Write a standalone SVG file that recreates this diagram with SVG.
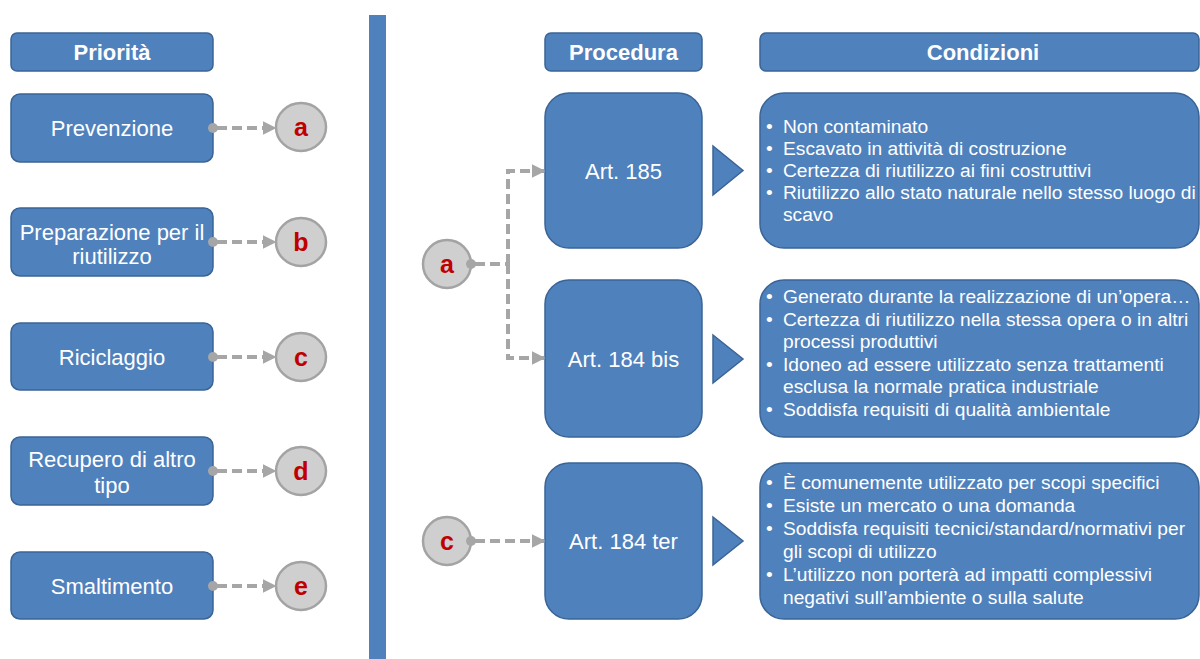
<svg xmlns="http://www.w3.org/2000/svg" width="1200" height="659" viewBox="0 0 1200 659">
<defs>
<style>
.box{fill:#4f81bd;stroke:#3a6496;stroke-width:1.5}
.hdr{font-family:"Liberation Sans",Arial,sans-serif;font-weight:bold;font-size:22px;fill:#fff;text-anchor:middle}
.lbl{font-family:"Liberation Sans",Arial,sans-serif;font-size:22px;fill:#fff;text-anchor:middle}
.cond{font-family:"Liberation Sans",Arial,sans-serif;font-size:19.2px;fill:#fff}
.circ{fill:#cfcfcf;stroke:#a3a3a3;stroke-width:2.5}
.let{font-family:"Liberation Sans",Arial,sans-serif;font-weight:bold;font-size:25px;fill:#c00000;text-anchor:middle}
.dash{fill:none;stroke:#a6a6a6;stroke-width:4;stroke-dasharray:10 5}
.dot{fill:#a6a6a6}
.tri{fill:#4f81bd;stroke:#3a6496;stroke-width:1.5}
</style>
<marker id="arr" viewBox="0 0 10 10" refX="9" refY="5" markerWidth="3.4" markerHeight="3.8" orient="auto" markerUnits="strokeWidth">
<path d="M0,0 L10,5 L0,10 z" fill="#a6a6a6"/>
</marker>
</defs>
<rect x="0" y="0" width="1200" height="659" fill="#fff"/>
<rect x="369" y="15" width="17" height="644" fill="#4f81bd"/>

<g id="hdr-priorita"><rect class="box" x="11" y="33" width="202" height="38" rx="6"/><text class="hdr" x="112" y="60">Priorità</text></g>
<g id="hdr-procedura"><rect class="box" x="545" y="33" width="157" height="38" rx="6"/><text class="hdr" x="623.5" y="60">Procedura</text></g>
<g id="hdr-condizioni"><rect class="box" x="760" y="33" width="439" height="38" rx="6"/><text class="hdr" x="983" y="60">Condizioni</text></g>

<g id="prevenzione"><rect class="box" x="11" y="94" width="202" height="68" rx="9"/><text class="lbl" x="112" y="135.5">Prevenzione</text></g>
<g id="preparazione"><rect class="box" x="11" y="208" width="202" height="68" rx="9"/><text class="lbl" x="112" y="239.5">Preparazione per il</text><text class="lbl" x="112" y="263.5">riutilizzo</text></g>
<g id="riciclaggio"><rect class="box" x="11" y="323" width="202" height="67" rx="9"/><text class="lbl" x="112" y="364.5">Riciclaggio</text></g>
<g id="recupero"><rect class="box" x="11" y="437" width="202" height="68" rx="9"/><text class="lbl" x="112" y="466.5">Recupero di altro</text><text class="lbl" x="112" y="492.5">tipo</text></g>
<g id="smaltimento"><rect class="box" x="11" y="552" width="202" height="67" rx="9"/><text class="lbl" x="112" y="593.5">Smaltimento</text></g>

<g id="circ-a"><ellipse class="circ" cx="301" cy="127" rx="25" ry="24"/><text class="let" x="301" y="136">a</text></g>
<g id="circ-b"><ellipse class="circ" cx="301" cy="242" rx="25" ry="24"/><text class="let" x="301" y="251">b</text></g>
<g id="circ-c"><ellipse class="circ" cx="301" cy="357" rx="25" ry="24"/><text class="let" x="301" y="366">c</text></g>
<g id="circ-d"><ellipse class="circ" cx="301" cy="471" rx="25" ry="24"/><text class="let" x="301" y="480">d</text></g>
<g id="circ-e"><ellipse class="circ" cx="301" cy="586" rx="25" ry="24"/><text class="let" x="301" y="595">e</text></g>

<g id="circ-a2"><ellipse class="circ" cx="447" cy="264" rx="24" ry="24"/><text class="let" x="447" y="273">a</text></g>
<g id="circ-c2"><ellipse class="circ" cx="447" cy="541" rx="24" ry="24"/><text class="let" x="447" y="550">c</text></g>

<g id="art185"><rect class="box" x="545" y="93" width="157" height="155" rx="24"/><text class="lbl" x="623.5" y="178.5">Art. 185</text></g>
<g id="art184bis"><rect class="box" x="545" y="280" width="157" height="157" rx="24"/><text class="lbl" x="623.5" y="366.5">Art. 184 bis</text></g>
<g id="art184ter"><rect class="box" x="545" y="463" width="157" height="156" rx="24"/><text class="lbl" x="623.5" y="548.5">Art. 184 ter</text></g>

<g id="tri"><path class="tri" d="M713,146 L743,170.5 L713,195 z"/><path class="tri" d="M713,335 L743,359 L713,383 z"/><path class="tri" d="M713,517 L743,541 L713,565 z"/></g>

<g id="cond1"><rect class="box" x="760" y="93" width="439" height="155" rx="24"/>
<text class="cond"><tspan x="766" y="133">•</tspan><tspan x="783" y="133">Non contaminato</tspan><tspan x="766" y="155">•</tspan><tspan x="783" y="155">Escavato in attività di costruzione</tspan><tspan x="766" y="177">•</tspan><tspan x="783" y="177">Certezza di riutilizzo ai fini costruttivi</tspan><tspan x="766" y="199">•</tspan><tspan x="783" y="199">Riutilizzo allo stato naturale nello stesso luogo di</tspan><tspan x="783" y="221">scavo</tspan></text></g>
<g id="cond2"><rect class="box" x="760" y="280" width="439" height="157" rx="24"/>
<text class="cond"><tspan x="766" y="303">•</tspan><tspan x="783" y="303">Generato durante la realizzazione di un’opera…</tspan><tspan x="766" y="325.5">•</tspan><tspan x="783" y="325.5">Certezza di riutilizzo nella stessa opera o in altri</tspan><tspan x="783" y="348">processi produttivi</tspan><tspan x="766" y="370.5">•</tspan><tspan x="783" y="370.5">Idoneo ad essere utilizzato senza trattamenti</tspan><tspan x="783" y="393">esclusa la normale pratica industriale</tspan><tspan x="766" y="415.5">•</tspan><tspan x="783" y="415.5">Soddisfa requisiti di qualità ambientale</tspan></text></g>
<g id="cond3"><rect class="box" x="760" y="463" width="439" height="156" rx="24"/>
<text class="cond"><tspan x="766" y="489">•</tspan><tspan x="783" y="489">È comunemente utilizzato per scopi specifici</tspan><tspan x="766" y="512">•</tspan><tspan x="783" y="512">Esiste un mercato o una domanda</tspan><tspan x="766" y="535">•</tspan><tspan x="783" y="535">Soddisfa requisiti tecnici/standard/normativi per</tspan><tspan x="783" y="558">gli scopi di utilizzo</tspan><tspan x="766" y="581">•</tspan><tspan x="783" y="581">L’utilizzo non porterà ad impatti complessivi</tspan><tspan x="783" y="604">negativi sull’ambiente o sulla salute</tspan></text></g>

<g id="connectors">
<circle class="dot" cx="213" cy="128" r="5"/><path class="dash" d="M217,128 H275" marker-end="url(#arr)"/>
<circle class="dot" cx="213" cy="242" r="5"/><path class="dash" d="M217,242 H275" marker-end="url(#arr)"/>
<circle class="dot" cx="213" cy="357" r="5"/><path class="dash" d="M217,357 H275" marker-end="url(#arr)"/>
<circle class="dot" cx="213" cy="471" r="5"/><path class="dash" d="M217,471 H275" marker-end="url(#arr)"/>
<circle class="dot" cx="213" cy="586" r="5"/><path class="dash" d="M217,586 H275" marker-end="url(#arr)"/>
<circle class="dot" cx="471" cy="264" r="5"/><path class="dash" d="M475,264 H508"/>
<path class="dash" d="M508,264 V171 H544" marker-end="url(#arr)"/>
<path class="dash" d="M508,264 V358 H544" marker-end="url(#arr)"/>
<circle class="dot" cx="471" cy="541" r="5"/><path class="dash" d="M475,541 H544" marker-end="url(#arr)"/>
</g>
</svg>
